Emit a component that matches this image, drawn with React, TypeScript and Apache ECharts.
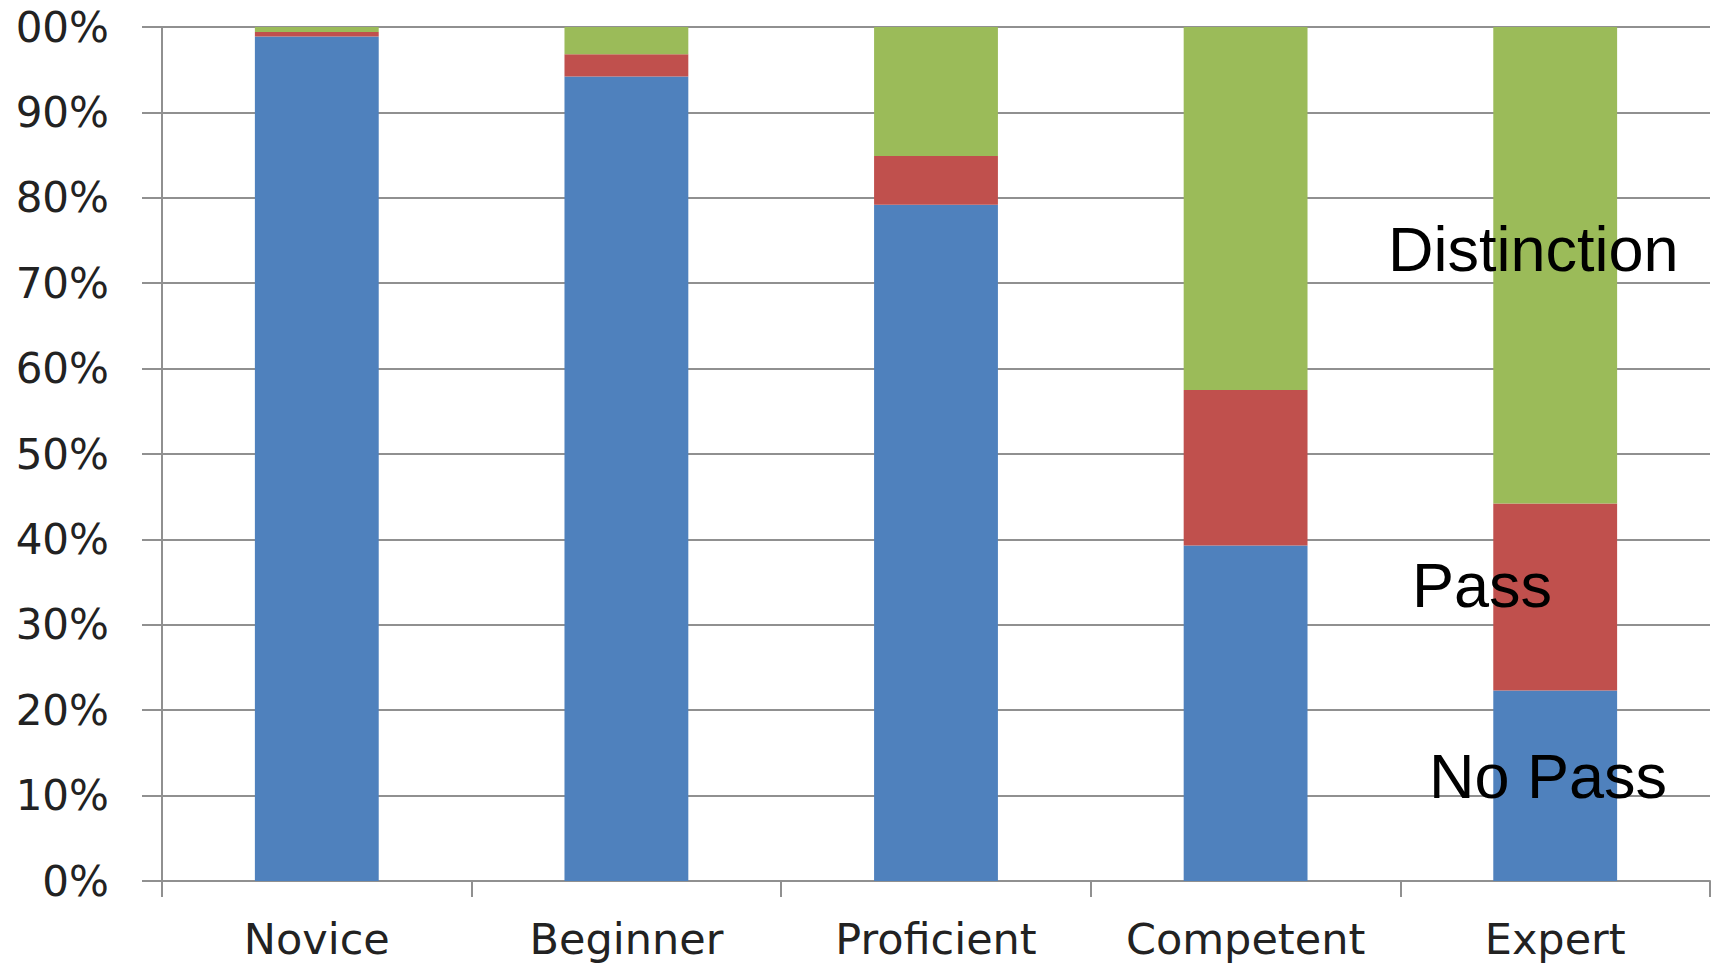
import React, { useEffect, useRef } from "react";
import * as echarts from "echarts";

const categories = ["Novice", "Beginner", "Proficient", "Competent", "Expert"];
const noPass = [98.9, 94.2, 79.2, 39.3, 22.3];
const pass = [0.5, 2.6, 5.7, 18.2, 21.9];
const distinction = [0.6, 3.2, 15.1, 42.5, 55.8];
const yTicks = [0, 10, 20, 30, 40, 50, 60, 70, 80, 90, 100];

const annotations = [
  { text: "Distinction", x: 1374, y: 249 },
  { text: "Pass", x: 1398, y: 585 },
  { text: "No Pass", x: 1415, y: 776 },
];

const GRID_COLOR = "#909090";

export default function App() {
  const ref = useRef<HTMLDivElement>(null);
  useEffect(() => {
    if (!ref.current) return;
    const chart = echarts.init(ref.current, undefined, { renderer: "svg" });
    chart.setOption({
      animation: false,
      backgroundColor: "#ffffff",
      grid: {
        left: 148,
        top: 27,
        right: 8,
        bottom: 84,
        containLabel: false,
        outerBoundsMode: "none",
      },
      xAxis: {
        type: "category",
        data: categories,
        axisLine: { show: true, lineStyle: { color: GRID_COLOR, width: 2 } },
        axisTick: { show: true, interval: 0, length: 16, alignWithLabel: false, lineStyle: { color: GRID_COLOR, width: 2 } },
        axisLabel: {
          interval: 0,
          margin: 36,
          fontFamily: "DejaVu Sans",
          fontSize: 43,
          color: "#222222",
        },
      },
      yAxis: {
        type: "value",
        min: yTicks[0],
        max: yTicks[yTicks.length - 1],
        interval: 10,
        axisLine: { show: true, lineStyle: { color: GRID_COLOR, width: 2 } },
        axisTick: { show: true, length: 20, lineStyle: { color: GRID_COLOR, width: 2 } },
        splitLine: { show: true, lineStyle: { color: GRID_COLOR, width: 2 } },
        axisLabel: {
          formatter: "{value}%",
          margin: 53,
          fontFamily: "DejaVu Sans",
          fontSize: 42,
          color: "#222222",
        },
      },
      series: [
        { name: "No Pass", type: "bar", stack: "all", data: noPass, barWidth: "40%", itemStyle: { color: "#4F81BD" } },
        { name: "Pass", type: "bar", stack: "all", data: pass, barWidth: "40%", itemStyle: { color: "#C0504D" } },
        { name: "Distinction", type: "bar", stack: "all", data: distinction, barWidth: "40%", itemStyle: { color: "#9BBB59" } },
      ],
      graphic: annotations.map((a) => ({
        type: "text",
        x: a.x,
        y: a.y,
        z: 100,
        style: {
          text: a.text,
          fill: "#000000",
          font: "63px 'Liberation Sans', Arial, sans-serif",
          textAlign: "left",
          textVerticalAlign: "middle",
          verticalAlign: "middle",
        },
      })),
    });
    return () => chart.dispose();
  }, []);
  return (
    <div
      ref={ref}
      style={{ position: "absolute", left: 14, top: 0, width: 1704, height: 965 }}
    />
  );
}
